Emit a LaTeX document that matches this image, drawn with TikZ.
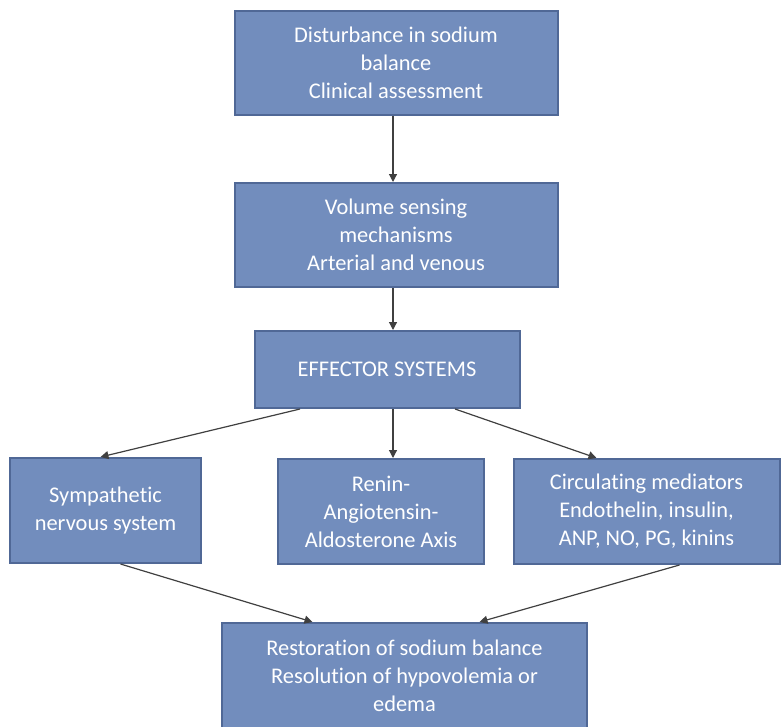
\documentclass[tikz,border=0pt]{standalone}
\usepackage{fontspec}
\setmainfont[Ligatures=NoCommon]{Carlito}
\usetikzlibrary{arrows.meta,calc}
\definecolor{boxfill}{RGB}{114,141,189}
\definecolor{boxline}{RGB}{80,104,150}
\definecolor{arrowgray}{RGB}{64,64,64}
\tikzset{
  flowbox/.style={draw=boxline, line width=2pt, fill=boxfill, text=white,
    align=center, inner sep=0pt, font=\fontsize{22.4}{28}\selectfont},
  flowarrow/.style={draw=arrowgray, line width=1.2pt, -{Triangle[width=8pt,length=8pt]}}
}

\begin{document}
\begin{tikzpicture}[x=1pt,y=-1pt]
    \useasboundingbox (0,0) rectangle (781,726);
    \node[flowbox, minimum width=323pt, minimum height=104pt] (disturb) at (396,62.5)
      {Disturbance in sodium\\balance\\Clinical assessment};
    \node[flowbox, minimum width=323pt, minimum height=104pt] (sensing) at (396,235)
      {Volume sensing\\mechanisms\\Arterial and venous};
    \node[flowbox, minimum width=265pt, minimum height=77pt] (effector) at (387,369.5)
      {EFFECTOR SYSTEMS};
    \node[flowbox, minimum width=191pt, minimum height=105pt] (sympathetic) at (105.5,510.5)
      {Sympathetic\\nervous system};
    \node[flowbox, minimum width=206pt, minimum height=105pt] (raas) at (381,511.5)
      {Renin-\\Angiotensin-\\Aldosterone Axis};
    \node[flowbox, minimum width=266pt, minimum height=105pt] (mediators) at (646.5,511.5)
      {Circulating mediators\\Endothelin, insulin,\\ANP, NO, PG, kinins};
    \node[flowbox, minimum width=365pt, minimum height=105pt] (restore) at (404.5,675.5)
      {Restoration of sodium balance\\Resolution of hypovolemia or\\edema};

    \draw[flowarrow] ([xshift=-3pt]disturb.south) -- ([xshift=-3pt]sensing.north);
    \draw[flowarrow] ([xshift=-3pt]sensing.south) -- ([xshift=6pt]effector.north);
    \draw[flowarrow] ([xshift=-87pt]effector.south) -- ([xshift=-5pt]sympathetic.north);
    \draw[flowarrow] ([xshift=6pt]effector.south) -- ([xshift=12pt]raas.north);
    \draw[flowarrow] ([xshift=68pt]effector.south) -- ([xshift=-50pt]mediators.north);
    \draw[flowarrow] ([xshift=15pt]sympathetic.south) -- ([xshift=-92pt]restore.north);
    \draw[flowarrow] ([xshift=33pt]mediators.south) -- ([xshift=75pt]restore.north);
\end{tikzpicture}
\end{document}
